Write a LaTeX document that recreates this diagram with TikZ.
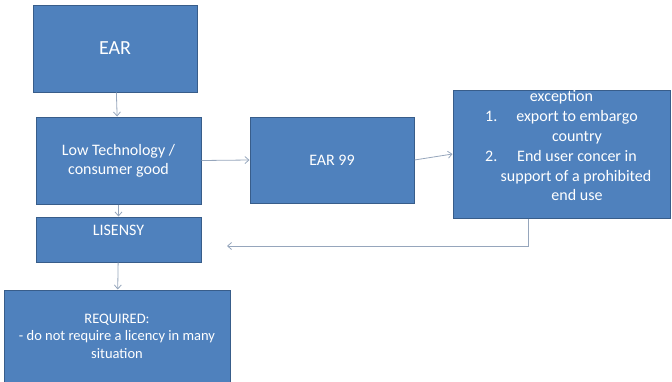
\documentclass[tikz,border=0pt]{standalone}
\usepackage{fontspec}
\setmainfont{Carlito}
\usetikzlibrary{arrows.meta}
\definecolor{boxfill}{RGB}{79,129,189}
\definecolor{boxline}{RGB}{56,93,138}
\definecolor{linkcol}{RGB}{150,166,188}
\tikzset{
  box/.style={draw=boxline, line width=1pt, fill=boxfill, text=white,
    inner sep=0pt, align=center, font=\fontsize{16}{19}\selectfont},
  txt/.style={text=white, inner sep=0pt, anchor=base,
    font=\fontsize{16}{20}\selectfont},
  link/.style={draw=linkcol, line width=0.8pt,
    -{Straight Barb[length=4pt,width=7pt]}}
}
\begin{document}
\begin{tikzpicture}[x=1pt, y=-1pt]
\useasboundingbox (0,0) rectangle (672,381);

% boxes
\node[box, minimum width=164pt, minimum height=87pt, font=\fontsize{20}{24}\selectfont]
  (ear) at (115,48.5) {EAR};
\node[box, minimum width=165pt, minimum height=87pt]
  (low) at (118.5,160.5) {Low Technology /\\consumer good};
\node[box, minimum width=164pt, minimum height=86pt]
  (ear99) at (332,160) {EAR 99};
\node[box, minimum width=217pt, minimum height=128pt]
  (exc) at (561.5,154) {};
\node[box, minimum width=165pt, minimum height=45pt]
  (lis) at (118.5,239.5) {};
\node[box, minimum width=226pt, minimum height=92pt, font=\fontsize{14.5}{17.5}\selectfont]
  (req) at (117,336) {REQUIRED:\\- do not require a licency in many\\situation};

% licence box title, set near its top edge
\node[txt] (lisT) at (118.5,235) {LISENSY};

% exception box: title and a numbered list, line by line
\node[txt] (excT) at (561.5,101) {exception};
\node[txt, anchor=base west] (n1) at (485,121) {1.};
\node[txt] (l1a) at (577,121) {export to embargo};
\node[txt] (l1b) at (577,141) {country};
\node[txt, anchor=base west] (n2) at (485,161) {2.};
\node[txt] (l2a) at (577,161) {End user concer in};
\node[txt] (l2b) at (576,181) {support of a prohibited};
\node[txt] (l2c) at (577,200) {end use};

% connectors
\coordinate (back) at (227,246);
\draw[link] (ear) -- (low);
\draw[link] (low.east) -- (ear99.west);
\draw[link] (ear99.east) -- (exc.west);
\draw[link] (low) -- (lis);
\draw[link] (lis) -- (req);
\draw[link] (exc.south -| 528,0) |- (back);
\end{tikzpicture}
\end{document}
